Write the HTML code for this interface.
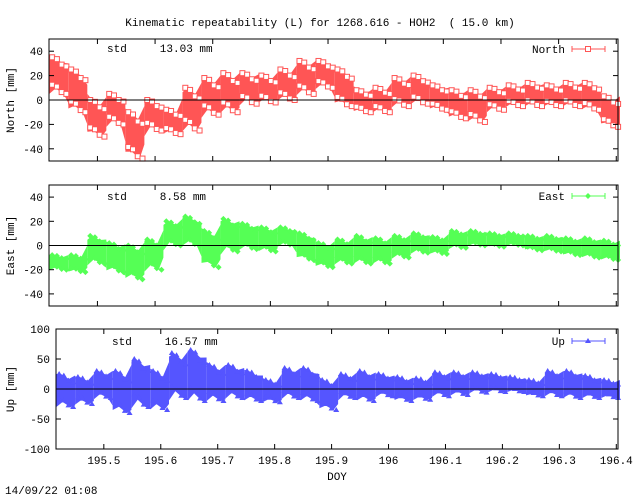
<!DOCTYPE html>
<html><head><meta charset="utf-8">
<style>
body{margin:0;background:#fff}
svg{display:block;font-family:"Liberation Mono",monospace;font-size:11px}
svg text{white-space:pre}
</style></head>
<body>
<svg id="c" width="640" height="496" xmlns="http://www.w3.org/2000/svg">
<text x="320" y="26" text-anchor="middle">Kinematic repeatability (L) for 1268.616 - HOH2  ( 15.0 km)</text>
<text x="337" y="480" text-anchor="middle">DOY</text>
<text x="5" y="494">14/09/22 01:08</text>
</svg>
<script>
const doy = [195.433,195.466,195.499,195.532,195.565,195.598,195.631,195.664,195.697,195.730,195.763,195.796,195.829,195.862,195.895,195.928,195.961,195.994,196.027,196.060,196.093,196.126,196.159,196.192,196.225,196.258,196.291,196.324,196.357,196.390];
const northLo = [5,-10,-30,-20,-48,-25,-28,-25,-12,-10,-3,-2,0,5,10,-5,-10,-10,-5,-3,-8,-15,-18,-8,-5,-5,-5,-5,-8,-22];
const northHi = [35,25,0,5,-10,0,-8,10,18,22,22,20,25,32,32,25,8,10,18,20,12,8,8,10,12,14,12,14,14,3];
const eastLo = [-20,-22,-15,-22,-28,-20,0,0,-18,-5,-3,-5,0,-12,-18,-15,-15,-15,-10,-6,-7,-2,0,-1,0,-4,-5,-8,-10,-12];
const eastHi = [-8,-8,8,2,0,5,20,24,12,22,18,15,15,10,2,5,8,6,8,10,7,12,12,10,10,8,8,6,6,4];
const upLo = [-30,-25,-15,-40,-30,-35,-15,-20,-20,-15,-20,-22,-15,-20,-35,-15,-20,-12,-20,-18,-12,-10,-6,-5,-5,-12,-12,-15,-15,-15];
const upHi = [25,20,30,30,50,30,60,65,40,40,30,15,35,35,15,25,30,25,20,18,28,28,28,25,20,15,30,30,22,15];
const xTicks = [195.5,195.6,195.7,195.8,195.9,196,196.1,196.2,196.3,196.4];
const xTickLabels = ["195.5","195.6","195.7","195.8","195.9","196","196.1","196.2","196.3","196.4"];
const yTicksNE = [-40,-20,0,20,40];
const yTicksU = [-100,-50,0,50,100];

const XMIN=195.416, XMAX=196.403;
const svg=document.getElementById('c');
const NS='http://www.w3.org/2000/svg';
function mk(tag,attrs,parent){const e=document.createElementNS(NS,tag);for(const k in attrs)e.setAttribute(k,attrs[k]);(parent||svg).appendChild(e);return e;}

const panels=[
 {name:'north',l:49,r:618,t:39,b:161,ymin:-50,ymax:50,ticks:yTicksNE,lo:northLo,hi:northHi,col:'#ff5555',title:'North [mm]',std:'13.03',stdx:107,stdy:52,legend:'North',ly:49,marker:'square',labels:false},
 {name:'east',l:49,r:618,t:185,b:306,ymin:-50,ymax:50,ticks:yTicksNE,lo:eastLo,hi:eastHi,col:'#55ff55',title:'East [mm]',std:'8.58',stdx:107,stdy:200,legend:'East',ly:196,marker:'diamond',labels:false},
 {name:'up',l:56,r:618,t:329,b:449,ymin:-100,ymax:100,ticks:yTicksU,lo:upLo,hi:upHi,col:'#5555ff',title:'Up [mm]',std:'16.57',stdx:112,stdy:345,legend:'Up',ly:341,marker:'triangle',labels:true}
];

function marker(g,type,x,y,col){
 let e;
 if(type==='square') e=mk('rect',{x:x-2.5,y:y-2.5,width:5,height:5,fill:'#fff',stroke:col,'stroke-width':1},g);
 else if(type==='diamond') e=mk('path',{d:`M${x} ${y-3}L${x+3} ${y}L${x} ${y+3}L${x-3} ${y}Z`,fill:col},g);
 else e=mk('path',{d:`M${x} ${y-3}L${x+3} ${y+2}L${x-3} ${y+2}Z`,fill:col},g);
 
 
}

panels.forEach(p=>{
 const sx=v=>p.l+(v-XMIN)/(XMAX-XMIN)*(p.r-p.l);
 const sy=v=>p.b-(v-p.ymin)/(p.ymax-p.ymin)*(p.b-p.t);
 const g=mk('g',{});
 
 
 const n=doy.length;
 const bw=(p.r-p.l)/n;
 // jagged band segments per bin
 doy.forEach((d,i)=>{
  const xc=sx(d);
  const nlo=p.lo[Math.min(i+1,n-1)], nhi=p.hi[Math.min(i+1,n-1)];
  const x0=xc-bw/2, x1=xc+bw/2;
  const q=mk('polygon',{points:`${x0},${sy(p.hi[i]*0.8+ (i>0?p.hi[i-1]:p.hi[i])*0.2)} ${xc-bw/4},${sy(p.hi[i])} ${xc+bw/6},${sy(p.hi[i]*0.85+p.lo[i]*0.15)} ${x1},${sy((p.hi[i]+nhi)/2)} ${x1},${sy((p.lo[i]+nlo)/2)} ${xc+bw/4},${sy(p.lo[i])} ${xc-bw/6},${sy(p.lo[i]*0.85+p.hi[i]*0.15)} ${x0},${sy(p.lo[i]*0.8+(i>0?p.lo[i-1]:p.lo[i])*0.2)}`,fill:p.col},g);
  
  
  // markers scattered through the band
  const offs=[-0.35,-0.1,0.15,0.4];
  offs.forEach((o,k)=>{
   const xx=xc+o*bw;
   const fr=[0,0.2,0.8,1][k];
   marker(g,p.marker,xx,sy(p.hi[i]-(p.hi[i]-p.lo[i])*fr*0.25),p.col);
   marker(g,p.marker,xx,sy(p.lo[i]+(p.hi[i]-p.lo[i])*(1-fr)*0.25),p.col);
  });
 });
 // zero line
 const z=mk('line',{x1:p.l,x2:p.r,y1:sy(0),y2:sy(0),stroke:'#000'},g);
 
 
 // frame
 const f=mk('rect',{x:p.l,y:p.t,width:p.r-p.l,height:p.b-p.t,fill:'none',stroke:'#000'},g);
 
 
 p.ticks.forEach(v=>{
  mk('line',{x1:p.l,x2:p.l+5,y1:sy(v),y2:sy(v),stroke:'#000'},g);
  mk('line',{x1:p.r-5,x2:p.r,y1:sy(v),y2:sy(v),stroke:'#000'},g);
  const t=mk('text',{x:p.l-6,y:sy(v)+4,'text-anchor':'end'},g);
  t.textContent=v;
  
  
 });
 xTicks.forEach((v,i)=>{
  mk('line',{x1:sx(v),x2:sx(v),y1:p.b,y2:p.b-5,stroke:'#000'},g);
  mk('line',{x1:sx(v),x2:sx(v),y1:p.t,y2:p.t+5,stroke:'#000'},g);
  if(p.labels){
   const t=mk('text',{x:sx(v),y:p.b+15,'text-anchor':'middle'},g);
   t.textContent=xTickLabels[i];
   
   
  }
 });
 const cy=(p.t+p.b)/2;
 const at=mk('text',{x:14,y:cy,'text-anchor':'middle',transform:`rotate(-90 14 ${cy})`},g);
 at.textContent=p.title;
 
 
 const st=mk('text',{x:p.stdx,y:p.stdy},g);
 st.textContent='std     '+p.std+' mm';
 
 
 const lg=mk('g',{},g);
 
 
 const lt=mk('text',{x:565,y:p.ly+4,'text-anchor':'end'},lg);
 lt.textContent=p.legend;
 mk('line',{x1:572,x2:605,y1:p.ly,y2:p.ly,stroke:p.col},lg);
 mk('line',{x1:572,x2:572,y1:p.ly-3,y2:p.ly+3,stroke:p.col},lg);
 mk('line',{x1:605,x2:605,y1:p.ly-3,y2:p.ly+3,stroke:p.col},lg);
 marker(lg,p.marker,588,p.ly,p.col);
});
</script>
</body></html>
